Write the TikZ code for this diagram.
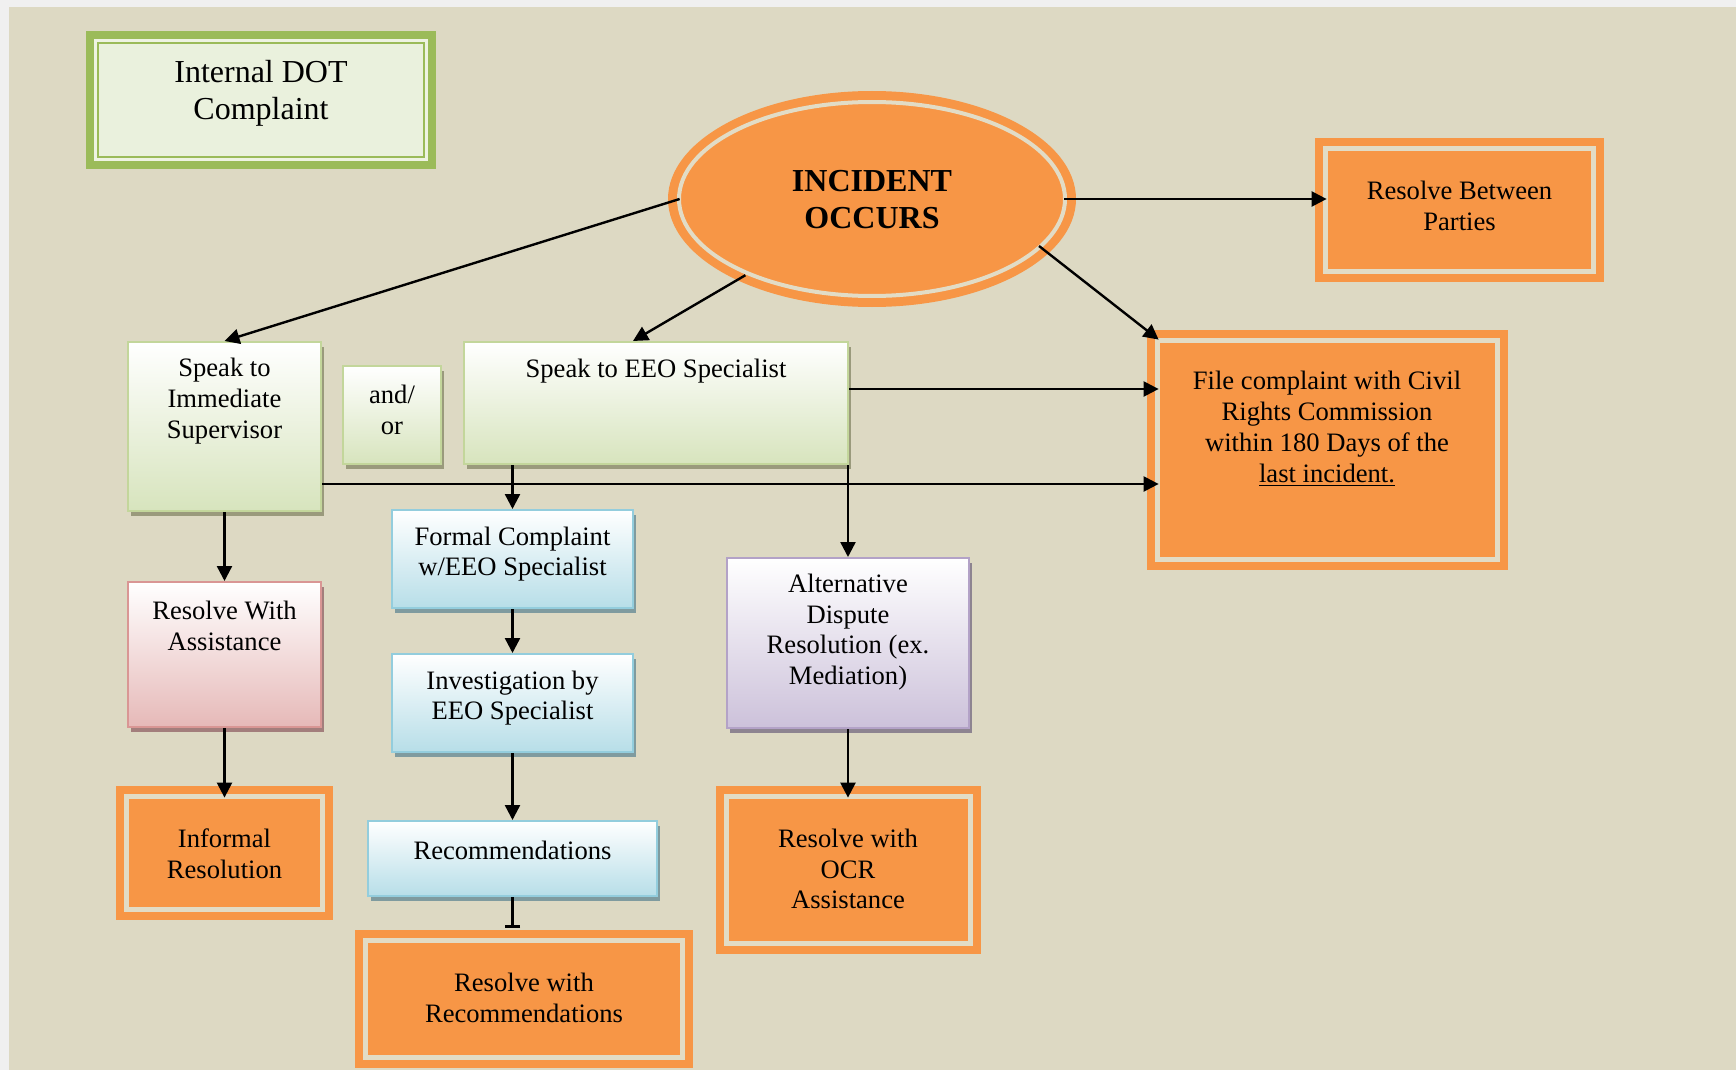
\documentclass[tikz,border=0pt]{standalone}
\usepackage{fontspec}
\setmainfont{Liberation Serif}
\usetikzlibrary{arrows.meta,shadows,calc,shapes.geometric}
\definecolor{bgc}{HTML}{DDD9C3}
\definecolor{edgec}{HTML}{F0F0F0}
\definecolor{ora}{HTML}{F79646}
\definecolor{stripec}{HTML}{E2DCC6}
\definecolor{grnO}{HTML}{9BBB59}
\definecolor{grnC}{HTML}{EEF3E2}
\definecolor{grnF}{HTML}{EAF1DD}
\definecolor{grnB}{HTML}{D7E4BD}
\definecolor{grnD}{HTML}{C3D69B}
\definecolor{grnS}{HTML}{9A9A7C}
\definecolor{bluB}{HTML}{B7DEE8}
\definecolor{bluD}{HTML}{93CDDD}
\definecolor{bluS}{HTML}{7F9B9F}
\definecolor{pnkB}{HTML}{E6B9B8}
\definecolor{pnkD}{HTML}{D99694}
\definecolor{pnkS}{HTML}{A37E7C}
\definecolor{purB}{HTML}{CCC1DA}
\definecolor{purD}{HTML}{B3A2C7}
\definecolor{purS}{HTML}{8D8490}
\tikzset{
  pastel/.style n args={3}{shape=rectangle, draw=#2, line width=1pt, top color=white, bottom color=#1,
    drop shadow={shadow xshift=1.5pt, shadow yshift=-2.5pt, fill=#3, opacity=1}, inner sep=0pt},
  gbox/.style={pastel={grnB}{grnD}{grnS}},
  bbox/.style={pastel={bluB}{bluD}{bluS}},
  pbox/.style={pastel={pnkB}{pnkD}{pnkS}},
  vbox/.style={pastel={purB}{purD}{purS}},
  obox/.style={shape=rectangle, fill=ora, inner sep=0pt,
    path picture={\draw[stripec, line width=2.5pt]
      ([shift={(5.25pt,-5.25pt)}]path picture bounding box.north west) rectangle
      ([shift={(-5.25pt,5.25pt)}]path picture bounding box.south east);}},
  intbox/.style={shape=rectangle, fill=grnO, inner sep=0pt,
    path picture={
      \fill[grnC] ([shift={(4.1pt,-4.1pt)}]path picture bounding box.north west) rectangle
      ([shift={(-4.1pt,4.1pt)}]path picture bounding box.south east);
      \fill[grnO] ([shift={(5.4pt,-5.4pt)}]path picture bounding box.north west) rectangle
      ([shift={(-5.4pt,5.4pt)}]path picture bounding box.south east);
      \fill[grnF] ([shift={(6.7pt,-6.7pt)}]path picture bounding box.north west) rectangle
      ([shift={(-6.7pt,6.7pt)}]path picture bounding box.south east);}},
  incell/.style={ellipse, fill=ora, inner sep=0pt, minimum width=204pt, minimum height=108pt,
    path picture={\draw[stripec, line width=2pt] (path picture bounding box.center)
      ellipse [x radius=96.5pt, y radius=48.5pt];}},
  txt/.style={font=\fontsize{13.3}{15.4}\selectfont, align=center, inner sep=0pt},
  bigtxt/.style={font=\fontsize{16}{18.5}\selectfont, align=center, inner sep=0pt},
  arr/.style={line width=1.2pt, -{Triangle[length=7.5pt,width=7.5pt]}},
}
\begin{document}
\begin{tikzpicture}[x=0.5pt,y=-0.5pt]
\useasboundingbox (0,0) rectangle (1736,1070);
\fill[edgec] (0,0) rectangle (1736,1070);
\fill[bgc] (9,7) rectangle (1736,1070);

% boxes
\node[intbox, minimum width=175pt, minimum height=69pt] (int) at (261,100) {};
\node[incell] (inc) at (872,199) {};
\node[obox, minimum width=144.5pt, minimum height=72pt] (btw) at (1459.5,210) {};
\node[obox, minimum width=180.5pt, minimum height=120pt] (file) at (1327.5,450) {};
\node[gbox, minimum width=96.5pt, minimum height=84.5pt] (sup) at (224.5,426.5) {};
\node[gbox, minimum width=49pt, minimum height=49pt] (andor) at (392,415) {};
\node[gbox, minimum width=192pt, minimum height=61pt] (eeo) at (656,403) {};
\node[bbox, minimum width=120.5pt, minimum height=49pt] (formal) at (512.5,559) {};
\node[bbox, minimum width=120.5pt, minimum height=49pt] (invest) at (512.5,703) {};
\node[bbox, minimum width=144.5pt, minimum height=37.5pt] (rec) at (512.5,858.5) {};
\node[obox, minimum width=169pt, minimum height=69pt] (rwr) at (524,999) {};
\node[vbox, minimum width=121pt, minimum height=85pt] (adr) at (848,643) {};
\node[obox, minimum width=132.5pt, minimum height=84pt] (ocr) at (848,870) {};
\node[pbox, minimum width=96.5pt, minimum height=72.5pt] (rwa) at (224.5,654.5) {};
\node[obox, minimum width=108.5pt, minimum height=67pt] (informal) at (224.5,853) {};

% texts
\node[bigtxt] (int-t) at (261,93) {Internal DOT\\Complaint};
\node[bigtxt, font=\fontsize{16}{18.5}\selectfont\bfseries] (inc-t) at (872,200) {INCIDENT\\OCCURS};
\node[txt] (btw-t) at (1459.5,206) {Resolve Between\\Parties};
\node[txt] (file-t) at (1327,429) {File complaint with Civil\\Rights Commission\\within 180 Days of the\\\underline{last incident.}};
\node[txt] (sup-t) at (224.5,401) {Speak to\\Immediate\\Supervisor};
\node[txt] (andor-t) at (392,410) {and/\\or};
\node[txt] (eeo-t) at (656,371) {Speak to EEO Specialist};
\node[txt] (formal-t) at (512.5,554) {Formal Complaint\\w/EEO Specialist};
\node[txt] (invest-t) at (512.5,698) {Investigation by\\EEO Specialist};
\node[txt] (rec-t) at (512.5,850) {Recommendations};
\node[txt] (rwr-t) at (524,998) {Resolve with\\Recommendations};
\node[txt] (adr-t) at (848,632) {Alternative\\Dispute\\Resolution (ex.\\Mediation)};
\node[txt] (ocr-t) at (848,869) {Resolve with\\OCR\\Assistance};
\node[txt] (rwa-t) at (224.5,626) {Resolve With\\Assistance};
\node[txt] (informal-t) at (224.5,854) {Informal\\Resolution};

% connectors
\draw[arr] ([xshift=6pt]inc.west) -- (sup.north);
\draw[arr, shorten <=-5pt] (inc.211) -- ([xshift=-11.5pt]eeo.north);
\draw[arr] ($(inc.center)+(167,47)$) -- ($(file.north west)+(12,10)$);
\draw[arr, shorten <=-6pt, shorten >=-6pt] (inc.east) -- (inc.east -| btw.west);
\coordinate (eeoR) at ($(eeo.north east)+(0,48)$);
\draw[arr, shorten >=-6pt] (eeoR) -- (eeoR -| file.west);
\coordinate (supR) at ($(sup.north east)+(0,143)$);
\draw[arr, shorten >=-6pt] (supR) -- (supR -| file.west);
\draw[arr] (adr.north |- eeo.south) -- (adr.north);
\draw[arr] (formal.north |- eeo.south) -- (formal.north);
\draw[arr] (formal.south) -- (invest.north);
\draw[arr] (invest.south) -- (rec.north);
\draw[line width=1.2pt, -{Bar[width=7.5pt]}] (rec.south) -- ($(rwr.north -| rec.south)+(0,-2)$);
\draw[arr] (sup.south) -- (rwa.north);
\draw[arr, shorten >=-6pt] (rwa.south) -- (informal.north);
\draw[arr, shorten >=-6pt] (adr.south) -- (adr.south |- ocr.north);
\end{tikzpicture}
\end{document}
